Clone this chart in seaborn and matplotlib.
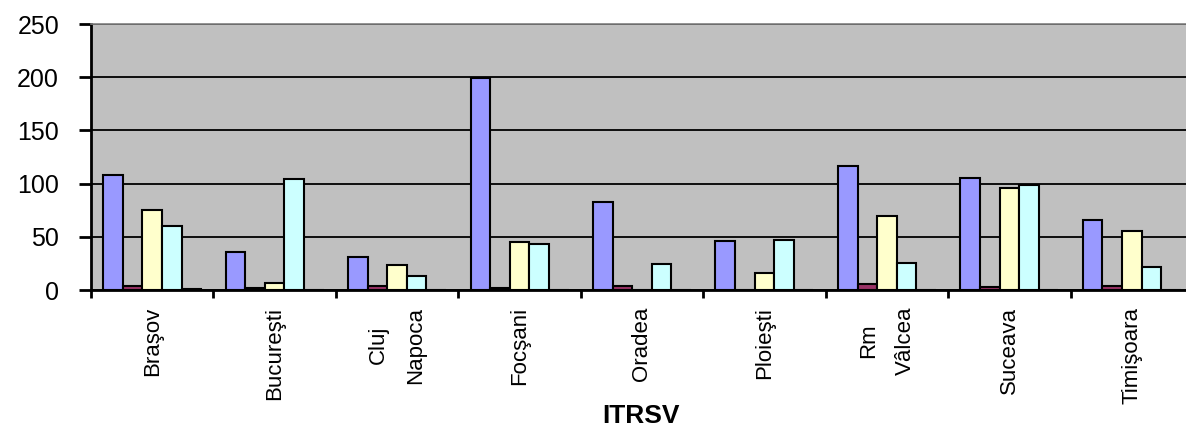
import matplotlib
matplotlib.use("Agg")
import matplotlib.pyplot as plt
from matplotlib.ticker import FixedLocator, NullFormatter
import pandas as pd
import seaborn as sns

# ITRSV data
cities = ["Braşov", "Bucureşti", "Cluj\nNapoca", "Focşani", "Oradea",
          "Ploieşti", "Rm\nVâlcea", "Suceava", "Timişoara"]
series = ["Seria 1", "Seria 2", "Seria 3", "Seria 4", "Seria 5"]
s1 = [108, 36, 31, 199, 83, 46, 117, 105, 66]
s2 = [4, 1.5, 4, 1.5, 4, 0, 5.5, 2.5, 4]
s3 = [75.5, 7, 23.5, 45, 0, 16, 70, 95.5, 55.5]
s4 = [60.5, 104.5, 13, 43.5, 24, 47, 25.5, 98.5, 22]
s5 = [1, 0, 0, 0, 0, 0, 0, 0, 0]
colors = ["#9999FF", "#993366", "#FFFFCC", "#CCFFFF", "#660066"]

rows = []
for name, vals in zip(series, [s1, s2, s3, s4, s5]):
    for c, v in zip(cities, vals):
        rows.append({"ITRSV": c, "valoare": v, "serie": name})
df = pd.DataFrame(rows)

sns.set_style("white")
plt.rcParams["font.family"] = ["Liberation Sans", "DejaVu Sans"]
plt.rcParams["text.color"] = "black"
plt.rcParams["xtick.color"] = "black"
plt.rcParams["ytick.color"] = "black"
plt.rcParams["axes.labelcolor"] = "black"

fig = plt.figure(figsize=(11.86, 4.28), dpi=100)
ax = fig.add_axes([91 / 1186, 1 - 290 / 428, 1102 / 1186, 266 / 428])
ax.set_facecolor("#C0C0C0")

sns.barplot(data=df, x="ITRSV", y="valoare", hue="serie", order=cities,
            hue_order=series, palette=colors, saturation=1, width=0.8,
            edgecolor="black", linewidth=1.5, legend=False, ax=ax)

ax.set_xlim(-0.5, len(cities) - 0.5)
ax.set_ylim(0, 250)
ax.set_yticks(range(0, 251, 50))
ax.set_axisbelow(True)
ax.yaxis.grid(True, color="black", linewidth=1.3)

ax.tick_params(axis="y", direction="out", length=9, width=2, labelsize=18,
               pad=14, left=True)
ax.tick_params(axis="x", which="major", length=0, labelsize=16, pad=12,
               labelrotation=90)
for lab in ax.get_xticklabels():
    lab.set_va("top")
    lab.set_ha("center")
    lab.set_multialignment("center")
    lab.set_linespacing(2.0)

# tick marks between categories
ax.xaxis.set_minor_locator(FixedLocator([i + 0.5 for i in range(-1, len(cities))]))
ax.xaxis.set_minor_formatter(NullFormatter())
ax.tick_params(axis="x", which="minor", direction="out", length=6, width=2,
               bottom=True)

for side in ["left", "bottom"]:
    ax.spines[side].set_color("black")
    ax.spines[side].set_linewidth(2)
ax.spines["top"].set_color("#808080")
ax.spines["top"].set_linewidth(1.2)
ax.spines["right"].set_visible(False)

ax.set_ylabel("")
ax.set_xlabel("ITRSV", fontsize=19, fontweight="bold")
ax.xaxis.set_label_coords((641 - 91) / 1102, -0.43)

fig.savefig("out.png", dpi=100)
